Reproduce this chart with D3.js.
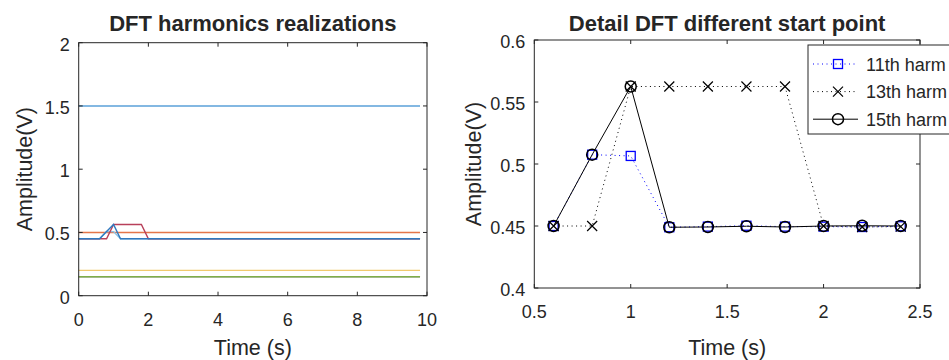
<!DOCTYPE html>
<html>
<head>
<meta charset="utf-8">
<script src="https://cdn.jsdelivr.net/npm/d3@7"></script>
<style>
  body { margin: 0; background: #fff; }
  text { font-family: "Liberation Sans", Arial, sans-serif; fill: #262626; }
</style>
</head>
<body>
<div id="chart"></div>
<script>
const width = 949;
const height = 360;

// left panel: harmonic amplitudes over time (only break points listed)
const constTime = [0, 9.8];
const h1Amp = [1.5, 1.5];
const h3Amp = [0.5, 0.5];
const h5Amp = [0.2, 0.2];
const h7Amp = [0.15, 0.15];
const h9Amp = [0.15, 0.15];
const h11Time = [0, 0.6, 0.8, 1.0, 1.2, 9.8];
const h11Amp = [0.45, 0.45, 0.5075, 0.5065, 0.45, 0.45];
const h13Time = [0, 0.8, 1.0, 1.8, 2.0, 9.8];
const h13Amp = [0.45, 0.45, 0.5625, 0.5625, 0.45, 0.45];
const h15Time = [0, 0.6, 0.8, 1.0, 1.2, 9.8];
const h15Amp = [0.45, 0.45, 0.5075, 0.5625, 0.45, 0.45];

const leftXTicks = [0, 2, 4, 6, 8, 10];
const leftYTicks = [0, 0.5, 1, 1.5, 2];

// right panel: detail around the start point
const detailTime = [0.6, 0.8, 1.0, 1.2, 1.4, 1.6, 1.8, 2.0, 2.2, 2.4];
const harm11 = [0.45, 0.5075, 0.5065, 0.449, 0.4495, 0.4502, 0.4495, 0.4495, 0.4492, 0.4498];
const harm13 = [0.45, 0.45, 0.5625, 0.5625, 0.5625, 0.5625, 0.5625, 0.45, 0.4492, 0.4495];
const harm15 = [0.45, 0.5075, 0.5625, 0.449, 0.4492, 0.4498, 0.4492, 0.45, 0.4502, 0.45];
const legendLabels = ["11th harm", "13th harm", "15th harm"];

const rightXTicks = [0.5, 1, 1.5, 2, 2.5];
const rightYTicks = [0.4, 0.45, 0.5, 0.55, 0.6];

const axisColor = "#262626";
const tickLen = 4;

const svg = d3.select("#chart")
  .append("svg")
  .attr("width", width)
  .attr("height", height)
  .attr("viewBox", [0, 0, width, height]);

svg.append("rect").attr("width", width).attr("height", height).attr("fill", "#fff");

// draws the box, inward ticks and labels of one MATLAB-like axes
function drawFrame(x, y, xTicks, yTicks, fmtX, fmtY, opts) {
  const [x0, x1] = x.range();
  const [y0, y1] = y.range();
  const g = svg.append("g");

  g.append("rect")
    .attr("x", x0).attr("y", y1)
    .attr("width", x1 - x0).attr("height", y0 - y1)
    .attr("fill", "none").attr("stroke", axisColor).attr("stroke-width", 1);

  xTicks.forEach((t) => {
    g.append("line").attr("x1", x(t)).attr("x2", x(t))
      .attr("y1", y0).attr("y2", y0 - tickLen).attr("stroke", axisColor);
    g.append("line").attr("x1", x(t)).attr("x2", x(t))
      .attr("y1", y1).attr("y2", y1 + tickLen).attr("stroke", axisColor);
    g.append("text").attr("x", x(t)).attr("y", y0 + 30)
      .attr("text-anchor", "middle").attr("font-size", 18).text(fmtX(t));
  });
  yTicks.forEach((t) => {
    g.append("line").attr("x1", x0).attr("x2", x0 + tickLen)
      .attr("y1", y(t)).attr("y2", y(t)).attr("stroke", axisColor);
    g.append("line").attr("x1", x1).attr("x2", x1 - tickLen)
      .attr("y1", y(t)).attr("y2", y(t)).attr("stroke", axisColor);
    g.append("text").attr("x", x0 - 9).attr("y", y(t) + 8)
      .attr("text-anchor", "end").attr("font-size", 18).text(fmtY(t));
  });

  // titles and axis labels
  svg.append("text").attr("x", (x0 + x1) / 2).attr("y", 31)
    .attr("text-anchor", "middle").attr("font-size", 22)
    .attr("font-weight", "bold").attr("fill", "#000").text(opts.title);
  svg.append("text").attr("x", (x0 + x1) / 2).attr("y", 355)
    .attr("text-anchor", "middle").attr("font-size", 21.5).text("Time (s)");
  svg.append("text")
    .attr("transform", "translate(" + (x0 - opts.yLabelOffset) + "," + (y0 + y1) / 2 + ") rotate(-90)")
    .attr("text-anchor", "middle").attr("font-size", 21.5).text("Amplitude(V)");
}

// ---------- left panel ----------
const xL = d3.scaleLinear().domain([0, 10]).range([78.7, 427]);
const yL = d3.scaleLinear().domain([0, 2]).range([295.7, 42.7]);

const lineL = d3.line().x((d) => xL(d[0])).y((d) => yL(d[1]));
const zip = (a, b) => a.map((v, i) => [v, b[i]]);

const leftSeries = [
  { t: constTime, v: h1Amp, color: "#5AA0D8" },
  { t: constTime, v: h3Amp, color: "#E4764A" },
  { t: constTime, v: h5Amp, color: "#F0C96E" },
  { t: constTime, v: h7Amp, color: "#9A8FA0" },
  { t: constTime, v: h9Amp, color: "#7FAE48" },
  { t: h11Time, v: h11Amp, color: "#8CC4E8" },
  { t: h13Time, v: h13Amp, color: "#B8405A" },
  { t: h15Time, v: h15Amp, color: "#2F78BE" },
];

svg.append("g")
  .selectAll("path")
  .data(leftSeries)
  .enter()
  .append("path")
  .attr("fill", "none")
  .attr("stroke", (d) => d.color)
  .attr("stroke-width", 1.4)
  .attr("d", (d) => lineL(zip(d.t, d.v)));

drawFrame(xL, yL, leftXTicks, leftYTicks, d3.format("d"), (d) => String(d),
  { title: "DFT harmonics realizations", yLabelOffset: 47 });

// ---------- right panel ----------
const xR = d3.scaleLinear().domain([0.5, 2.5]).range([534.3, 920]);
const yR = d3.scaleLinear().domain([0.4, 0.6]).range([288, 40]);
const lineR = d3.line().x((d) => xR(d[0])).y((d) => yR(d[1]));

const rightSeries = [
  { v: harm11, color: "#0000FF", dash: "1,3.5", marker: "square" },
  { v: harm13, color: "#000000", dash: "1,3.5", marker: "cross" },
  { v: harm15, color: "#000000", dash: null, marker: "circle" },
];

function drawMarker(g, type, cx, cy, color) {
  if (type === "square") {
    g.append("rect").attr("x", cx - 4.5).attr("y", cy - 4.5)
      .attr("width", 9).attr("height", 9)
      .attr("fill", "none").attr("stroke", color).attr("stroke-width", 1.3);
  } else if (type === "cross") {
    g.append("path")
      .attr("d", `M${cx - 5},${cy - 5}L${cx + 5},${cy + 5}M${cx - 5},${cy + 5}L${cx + 5},${cy - 5}`)
      .attr("stroke", color).attr("stroke-width", 1.2);
  } else {
    g.append("circle").attr("cx", cx).attr("cy", cy).attr("r", 5.5)
      .attr("fill", "none").attr("stroke", color).attr("stroke-width", 1.5);
  }
}

rightSeries.forEach((s) => {
  const g = svg.append("g");
  g.append("path")
    .attr("fill", "none")
    .attr("stroke", s.color)
    .attr("stroke-width", 1)
    .attr("stroke-dasharray", s.dash)
    .attr("d", lineR(zip(detailTime, s.v)));
  detailTime.forEach((t, i) => drawMarker(g, s.marker, xR(t), yR(s.v[i]), s.color));
});

drawFrame(xR, yR, rightXTicks, rightYTicks, (d) => String(d), (d) => String(d),
  { title: "Detail DFT different start point", yLabelOffset: 53 });

// legend
const leg = svg.append("g").attr("transform", "translate(808,45)");
leg.append("rect").attr("width", 160).attr("height", 89)
  .attr("fill", "#fff").attr("stroke", axisColor).attr("stroke-width", 1);
rightSeries.forEach((s, i) => {
  const yy = 19 + i * 27.6;
  leg.append("line").attr("x1", 5).attr("x2", 50).attr("y1", yy).attr("y2", yy)
    .attr("stroke", s.color).attr("stroke-dasharray", s.dash);
  drawMarker(leg, s.marker, 30, yy, s.color);
  leg.append("text").attr("x", 58).attr("y", yy + 6.5)
    .attr("font-size", 18).text(legendLabels[i]);
});
</script>
</body>
</html>
